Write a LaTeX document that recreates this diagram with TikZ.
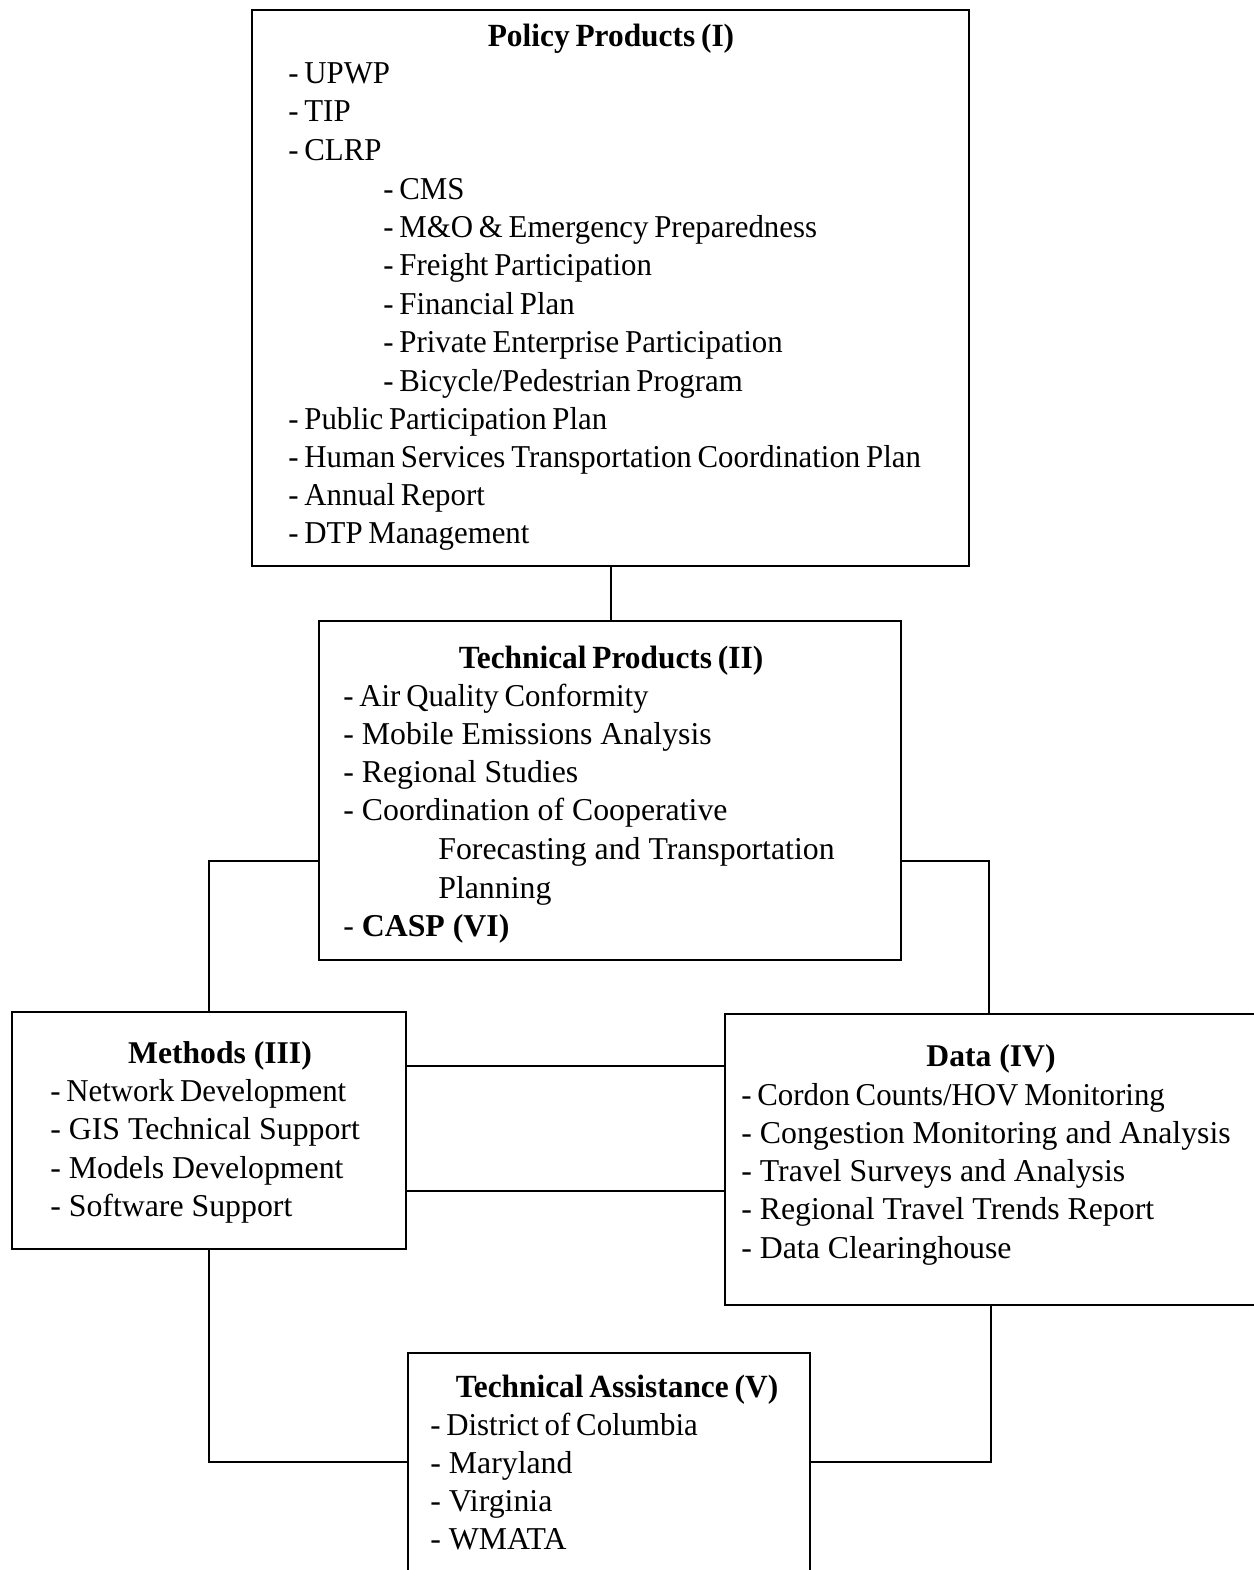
\documentclass[tikz,border=0pt]{standalone}
\usepackage{fontspec}
\setmainfont{Liberation Serif}
\newfontfamily\tightfont[FakeStretch=0.97,WordSpace=0.75]{Liberation Serif}
\usetikzlibrary{positioning}

\begin{document}
\begin{tikzpicture}[x=0.02cm, y=-0.02cm,
  panel/.style={draw=black, line width=1.3pt, anchor=north west, inner sep=0pt},
  heading/.style={anchor=base, inner sep=0pt, font=\bfseries\fontsize{18}{21}\selectfont},
  narrowhead/.style={anchor=base, inner sep=0pt, font=\tightfont\bfseries\fontsize{18.4}{21}\selectfont},
  entry/.style={anchor=base west, inner sep=0pt, font=\fontsize{18.1}{21}\selectfont},
  narrow/.style={anchor=base west, inner sep=0pt, font=\tightfont\fontsize{18.1}{21}\selectfont},
  link/.style={draw=black, line width=1.1pt}]
  \useasboundingbox (0,0) rectangle (1254,1570);

  % Boxes
  \node[panel, minimum width=14.34cm, minimum height=11.12cm] (policy) at (251,9) {};
  \node[panel, minimum width=11.64cm, minimum height=6.78cm] (technical) at (318,620) {};
  \node[panel, minimum width=7.88cm, minimum height=4.74cm] (methods) at (11,1011) {};
  \node[panel, minimum width=11.6cm, minimum height=5.82cm] (data) at (724,1013) {};
  \node[panel, minimum width=8.04cm, minimum height=5.4cm] (assist) at (407,1352) {};

  % Policy Products
  \node[narrowhead] (policy-title) at (611,46) {Policy Products (I)};
  \foreach \txt [count=\i] in {UPWP, TIP, CLRP}
    \node[narrow] (policy-\i) at (288,83+38.5*\i-38.5) {- \txt};
  \foreach \txt [count=\i] in {CMS, M\&O \& Emergency Preparedness, Freight Participation,
      Financial Plan, Private Enterprise Participation, Bicycle/Pedestrian Program}
    \node[narrow] (clrp-\i) at (383,199+38.4*\i-38.4) {- \txt};
  \foreach \txt [count=\i] in {Public Participation Plan,
      Human Services Transportation Coordination Plan, Annual Report, DTP Management}
    \node[narrow] (plan-\i) at (288,429+38.3*\i-38.3) {- \txt};

  % Technical Products
  \node[narrowhead] (technical-title) at (611,668) {Technical Products (II)};
  \node[narrow] (technical-1) at (343,706) {- Air Quality Conformity};
  \foreach \txt [count=\i from 2] in {Mobile Emissions Analysis, Regional Studies,
      Coordination of Cooperative}
    \node[entry] (technical-\i) at (343,706+38.3*\i-38.3) {- \txt};
  \node[entry] (technical-5) at (438,859) {Forecasting and Transportation};
  \node[entry] (technical-6) at (438,898) {Planning};
  \node[entry] (technical-7) at (343,936) {- \textbf{CASP (VI)}};

  % Methods
  \node[heading] (methods-title) at (220,1063) {Methods (III)};
  \node[narrow] (methods-1) at (50,1101) {- Network Development};
  \foreach \txt [count=\i from 2] in {GIS Technical Support, Models Development, Software Support}
    \node[entry] (methods-\i) at (50,1101+38.6*\i-38.6) {- \txt};

  % Data
  \node[heading] (data-title) at (991,1066) {Data (IV)};
  \node[narrow] (data-1) at (741,1105) {- Cordon Counts/HOV Monitoring};
  \foreach \txt [count=\i from 2] in {Congestion Monitoring and Analysis,
      Travel Surveys and Analysis, Regional Travel Trends Report, Data Clearinghouse}
    \node[entry] (data-\i) at (741,1105+38.3*\i-38.3) {- \txt};

  % Technical Assistance
  \node[narrowhead] (assist-title) at (617,1397) {Technical Assistance (V)};
  \node[narrow] (assist-1) at (430,1435) {- District of Columbia};
  \foreach \txt [count=\i from 2] in {Maryland, Virginia, WMATA}
    \node[entry] (assist-\i) at (430,1435+38.3*\i-38.3) {- \txt};

  % Connectors
  \draw[link] (policy.south) -- (policy.south |- technical.north);
  \draw[link] (methods.north) |- ([yshift=2cm]technical.south west);
  \draw[link] ([xshift=5.3cm]data.north west) |- ([yshift=2cm]technical.south east);
  \coordinate (upper) at ([yshift=-1.1cm]methods.north east);
  \coordinate (lower) at ([yshift=-3.6cm]methods.north east);
  \draw[link] (upper) -- (upper -| data.west);
  \draw[link] (lower) -- (lower -| data.west);
  \coordinate (assist-in) at ([yshift=-2.2cm]assist.north west);
  \coordinate (assist-out) at ([yshift=-2.2cm]assist.north east);
  \draw[link] (methods.south) |- (assist-in);
  \draw[link] ([xshift=5.34cm]data.south west) |- (assist-out);
\end{tikzpicture}
\end{document}
